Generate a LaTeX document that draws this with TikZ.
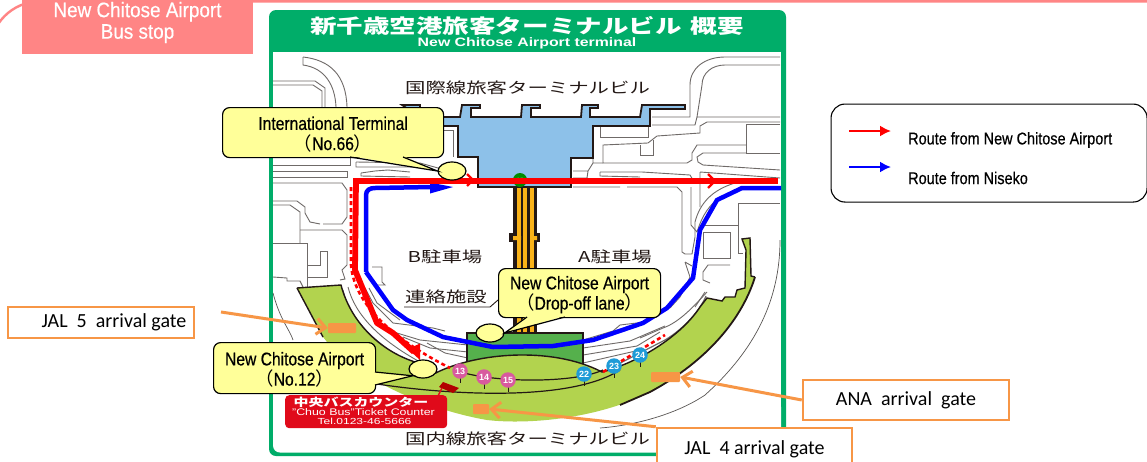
\documentclass[tikz,border=0pt]{standalone}
\usepackage{fontspec}
\setmainfont{Liberation Sans}
\newfontfamily\jp{Noto Sans CJK JP}
\newfontfamily\jpw[FakeStretch=1.36]{Noto Sans CJK JP}
\newfontfamily\lat[FakeStretch=0.85,FakeBold=0.5]{Liberation Sans}
\newfontfamily\latb[FakeStretch=0.9,FakeBold=0.4]{Liberation Sans}
\newfontfamily\carl{Carlito}
\newcommand{\lpar}{{\jp （}}
\newcommand{\rpar}{{\jp ）}}
\newcommand{\topfix}{\rule{0pt}{16.5pt}}
\usetikzlibrary{arrows.meta,shapes.geometric}
\definecolor{fgreen}{HTML}{00AD69}
\definecolor{pinkc}{HTML}{FF8585}
\definecolor{lgreen}{HTML}{B2D34E}
\definecolor{bgreen}{HTML}{55B04C}
\definecolor{tblue}{HTML}{8DC1E9}
\definecolor{yel}{HTML}{FFFF99}
\definecolor{orng}{HTML}{F79646}
\definecolor{bridge}{HTML}{F9B218}
\definecolor{cred}{HTML}{E00A1A}
\definecolor{inkc}{HTML}{231815}
\definecolor{roadc}{HTML}{6F6A68}
\definecolor{gpink}{HTML}{D85A9E}
\definecolor{gblue}{HTML}{1F9BD7}
\tikzset{
 road/.style={draw=roadc,line width=0.9pt},
 thinarc/.style={draw=roadc!80!black,line width=0.7pt},
 rred/.style={draw=red,line width=5.8pt,line join=round},
 rblue/.style={draw=blue,line width=4.5pt,line join=round},
 dashr/.style={draw=red,line width=2.6pt,dash pattern=on 4pt off 3pt},
 callout/.style={draw=black,fill=yel,line width=1.2pt,rounded corners=7pt,inner sep=0pt,align=center,font=\lat\fontsize{18.4}{20.2}\selectfont},
 stopoval/.style={draw=black,fill=yel,line width=1.2pt,ellipse,minimum width=28pt,minimum height=18pt,inner sep=0pt},
 jplabel/.style={font=\jpw\fontsize{15}{17}\selectfont,text=inkc,inner sep=0pt},
 infobox/.style={draw=orng,fill=white,line width=2.5pt,inner sep=0pt,font=\carl\fontsize{20}{22}\selectfont},
 gatemark/.style={fill=orng,rounded corners=1pt,inner sep=0pt},
 gateline/.style={draw=orng,line width=3pt,-{Straight Barb[length=9pt,width=16pt,line width=3pt]}},
 gatepink/.style={circle,fill=gpink,minimum size=15.5pt,inner sep=0pt,text=white,font=\bfseries\fontsize{9}{9}\selectfont},
 gateblue/.style={circle,fill=gblue,minimum size=15.5pt,inner sep=0pt,text=white,font=\bfseries\fontsize{9}{9}\selectfont},
 legendtext/.style={anchor=west,inner sep=0pt,font=\lat\fontsize{17}{19}\selectfont},
}
\begin{document}
\begin{tikzpicture}[x=1pt,y=-1pt]
\clip (0,0) rectangle (1147,461);
\fill[white] (0,0) rectangle (1147,461);
% outer pink frame
\draw[pinkc,line width=2.4pt,rounded corners=50pt] (-10,462) -- (-10,1.4) -- (1300,1.4) -- (1300,500);
\node[fill=pinkc,minimum width=231pt,minimum height=54pt,inner sep=0pt,anchor=north west] (busstop) at (22,0) {};
\node[text=white,align=center,inner sep=0pt,font=\latb\fontsize{21}{21.5}\selectfont] (busstoptext) at (137.5,22.5) {New Chitose Airport\\Bus stop};
% green frame
\fill[fgreen,rounded corners=7pt] (269,10) rectangle (786,456);
\fill[white] (273,52) rectangle (781,440);
\fill[white,rounded corners=7pt] (273,400) rectangle (781,452.5);
\node[text=white,font=\jpw\bfseries\fontsize{19.5}{22}\selectfont,inner sep=0pt] (title) at (527,25.5) {新千歳空港旅客ターミナルビル\hspace{9pt}概要};
\node[text=white,font=\bfseries\fontsize{12.2}{13}\selectfont,inner sep=0pt] (subtitle) at (527,43) {\addfontfeature{FakeStretch=1.3}New Chitose Airport terminal};
% road lines, upper left
\draw[road] (303,57) .. controls (330,60) and (346,75) .. (347,107);
\draw[road] (303,57) -- (303,65) .. controls (325,68) and (335,85) .. (336,107);
\draw[road] (273,81) -- (315,81) -- (325,88) -- (325,107);
\draw[road] (273,85) -- (313,85) -- (322,91) -- (322,107);
\draw[road] (273,157) -- (350,157) -- (350,165) -- (273,165);
\draw[road] (273,171) -- (347,171) -- (347,177) -- (273,177);
\draw[road] (356,162) -- (420,163) -- (438,168) (356,162) -- (356,167) -- (420,167);
\draw[road] (361,173) -- (361,176) -- (410,177) (361,173) -- (375,171) -- (388,170) -- (410,172);
\draw[road] (273,183) -- (342,183) -- (347,190) -- (347,217) -- (342,224) -- (323,224) (320,224) -- (310,222) -- (305,213) -- (305,207) -- (297,201) -- (273,201);
\draw[road] (273,205) -- (290,205) -- (300,212) -- (300,243);
\draw[road] (300,230) -- (342,230) -- (347,235) -- (347,265) -- (342,270) -- (345,279) -- (340,280);
\draw[road] (273,243) -- (307,243) -- (307,287);
\draw[road] (307,265) -- (320,265) -- (320,251) -- (327,251) -- (327,277) -- (307,277);
\draw[road] (273,277) -- (287,278) -- (287,281) -- (300,281) -- (303,287);
\draw[road] (372,267) -- (382,267) -- (382,282) -- (385,285) -- (375,285);
\draw[road] (443,130) -- (453,130) -- (453,157);
% road lines, upper right
\draw[road] (652,117) -- (690,117) -- (690,85) .. controls (690,68) and (705,57) .. (725,57) -- (780,57);
\draw[road] (697,117) -- (702,85) .. controls (702,73) and (712,65) .. (725,65) -- (780,65);
\draw[road] (652,125) -- (695,125) -- (697,117) -- (780,117);
\draw[road] (780,122) -- (707,122) -- (700,126) -- (700,133) -- (657,136) -- (648,143) -- (603,145) -- (603,163) -- (687,163) -- (692,160) -- (692,153) -- (697,145) -- (746,145);
\draw[road] (600,127) -- (600,137) -- (648,137) -- (648,127);
\draw[road] (640,145) -- (640,155) -- (653,155) -- (653,140);
\draw[road] (746,124) -- (746,153) -- (780,153) (746,124) -- (780,124);
\draw[road] (746,153) -- (703,153) -- (697,157) -- (698,162) -- (703,165) -- (780,170);
\draw[road] (573,171) -- (588,171) -- (593,163) (593,158) -- (593,163) -- (603,163) (588,171) -- (587,178) -- (573,178);
\draw[road] (600,172) -- (642,172) -- (690,175) -- (693,180) (600,172) -- (600,176) -- (640,177);
\draw[road] (573,187) -- (620,187) (627,187) -- (677,187) -- (682,192) -- (682,252) -- (685,254) -- (692,254) -- (695,237) -- (695,222) .. controls (700,203) and (712,190) .. (735,183);
\draw[road] (691,187) -- (691,225) -- (697,232) .. controls (703,213) and (710,205) .. (720,197);
\draw[road] (700,172) -- (700,207) (700,172) -- (780,178);
\draw[road] (738,203) -- (780,203) (738,203) -- (738,253) -- (743,253);
\draw[road] (703,225) -- (738,225) (703,232) -- (730,232) -- (730,258) -- (703,258) -- (703,232);
\draw[road] (703,272) -- (708,265) -- (730,265) (703,272) -- (703,280) -- (710,283);
\draw[road] (685,262) -- (690,277) -- (680,297) -- (670,308) (685,262) -- (692,266);
\draw[road] (705,292) -- (695,307);
\draw[road] (707,292) .. controls (695,305) and (680,322) .. (663,328) -- (640,338);
\draw[road] (583,340) -- (613,331) -- (620,325) -- (645,322);
\draw[road] (583,348) -- (630,341) -- (665,326);
\draw[road] (583,355) -- (637,346) -- (660,332);
\draw[road] (583,363) -- (640,350);
\draw[road,line width=1.2pt] (603,372) -- (665,340) .. controls (685,328) and (700,310) .. (706,296);
% road lines, left channel
\draw[road] (343,290) .. controls (349,318) and (375,345) .. (417,367);
\draw[road] (348,287) .. controls (355,315) and (380,340) .. (420,362);
\draw[road] (365,288) -- (373,303) -- (393,323) -- (433,328) -- (445,331);
\draw[road] (369,288) -- (377,303) -- (400,320);
\draw[road] (387,330) -- (420,340) -- (468,345);
\draw[road] (403,337) -- (430,348) -- (468,352);
\draw[road] (427,343) -- (445,353) -- (468,358);
% outer thin arc
\draw[thinarc] (273,293) .. controls (280,320) and (290,330) .. (293,340);
\draw[thinarc] (780,240) .. controls (780,300) and (755,350) .. (705,395) .. controls (680,412) and (640,425) .. (600,428);
% bridge
\fill[inkc] (513,187) rectangle (537,334);
\fill[inkc] (509,233) rectangle (540,242);
\foreach \a/\b in {517/521,523/527,530/534}{\fill[bridge] (\a,187) rectangle (\b,333);}
\fill[bridge] (513,236) rectangle (521,240) (530,236) rectangle (537,240);
% terminal
\draw[fill=tblue,draw=inkc,line width=1.8pt,line join=miter] (402,105) -- (420,105) -- (420,117) -- (460,117) -- (462,105) -- (480,105) -- (480,108) -- (471,108) -- (471,117) -- (521,117) -- (522,105) -- (540,105) -- (540,108) -- (531,108) -- (531,117) -- (581,117) -- (582,105) -- (598,105) -- (598,108) -- (590,108) -- (590,117) -- (640,117) -- (642,105) -- (685,105) -- (685,109) -- (650,109) -- (650,126) -- (593,126) -- (593,158) -- (571,158) -- (571,187) -- (478,187) -- (478,157) -- (458,157) -- (458,126) -- (442,126) -- (442,117) -- (420,117) -- cycle;
\node[circle,fill=green!55!black,minimum size=14pt,inner sep=0pt,text=white,font=\bfseries\fontsize{6}{7}\selectfont] (gate25) at (520,180) {25};
% apron and buildings
\draw[draw=inkc,fill=bgreen,line width=1.5pt] (467,375) -- (467,333) -- (583,333) -- (583,375);
\fill[lgreen] (297,288) -- (341,285) .. controls (350,320) and (378,350) .. (415,362) -- (430,376) .. controls (470,353) and (550,345) .. (602,372) .. controls (640,362) and (682,335) .. (700,307) -- (707,298) -- (722,301) -- (725,297) -- (735,297) -- (737,290) -- (745,288) -- (746,250) -- (742,239) -- (750,238) -- (751,276) -- (755,277) .. controls (740,325) and (700,365) .. (650,392) .. controls (600,418) and (530,425) .. (487,420) .. controls (440,412) and (360,385) .. (323,337) -- cycle;
\draw[inkc,line width=1.4pt] (297,288) -- (341,285) .. controls (350,320) and (378,350) .. (415,362);
\draw[inkc,line width=1.4pt] (297,288) -- (323,337);
\draw[inkc,line width=1.4pt] (430,376) .. controls (470,353) and (550,345) .. (602,372);
\draw[inkc,line width=1.4pt] (602,372) .. controls (640,362) and (682,335) .. (700,307) -- (707,298) -- (722,301) -- (725,297) -- (735,297) -- (737,290) -- (745,288) -- (746,250) -- (742,239) -- (750,238) -- (751,276) -- (755,277);
\draw[inkc,line width=1.8pt] (755,277) .. controls (740,325) and (700,365) .. (650,392) -- (620,405);
\draw[inkc,line width=1.2pt] (453,369) .. controls (480,382) and (570,385) .. (603,370);
\draw[inkc,line width=1.2pt] (377,384) .. controls (450,395) and (570,402) .. (620,370);
% dashes and routes
\draw[dashr] (351,187) -- (351,265) .. controls (354,300) and (385,335) .. (450,368);
\draw[dashr] (603,372) -- (665,335);
\draw[rblue] (366,272) -- (366,195) .. controls (366,190) and (370,188) .. (375,188) -- (432,187);
\fill[blue] (430,182.5) -- (453,187) -- (430,193.5) -- cycle;
\draw[rblue] (366,272) -- (393,310) -- (407,320) -- (443,337) -- (493,347) -- (553,346) -- (593,340) -- (643,323) -- (667,308) -- (693,278) -- (700,230) -- (717,200) -- (742,188) -- (781,188);
\draw[rred] (356,181) -- (778,181);
\draw[rred] (356,178.1) -- (355,270) -- (377,323) -- (393,333) -- (414,352);
\fill[red] (408,349) -- (420,343.5) -- (420,360) -- cycle;
\draw[red,line width=2.4pt] (467,174) -- (473,180) -- (467,186);
\draw[red,line width=2.4pt] (708,174) -- (715,181) -- (708,188);
% map labels
\node[jplabel] (intl) at (527.5,87.5) {国際線旅客ターミナルビル};
\node[jplabel] (bpark) at (445,257) {B駐車場};
\node[jplabel] (apark) at (615,257) {A駐車場};
\node[jplabel] (renraku) at (446,297) {連絡施設};
\draw[inkc,line width=.9pt] (404,307) -- (490,307) -- (498,300);
\node[jplabel] (dom) at (527.5,439) {国内線旅客ターミナルビル};
% ticket counter
\fill[fill=red!70!black] (443,382) -- (459,388) -- (453,393) -- (439,387) -- cycle;
\node[fill=cred,rounded corners=4pt,minimum width=162pt,minimum height=33pt,inner sep=0pt,anchor=north west] (counter) at (285,395) {};
\node[text=white,inner sep=0pt,font=\jpw\bfseries\fontsize{11}{11}\selectfont] (ct1) at (361,402.5) {中央バスカウンター};
\node[text=white,inner sep=0pt,font=\fontsize{9.6}{10}\selectfont] (ct2) at (363.5,412.5) {\addfontfeature{FakeStretch=1.29}"Chuo Bus"Ticket Counter};
\node[text=white,inner sep=0pt,font=\fontsize{8.8}{9}\selectfont] (ct3) at (364.5,421.5) {\addfontfeature{FakeStretch=1.37}Tel.0123-46-5666};
\draw[cred,line width=1.5pt] (442,388) -- (438,396);
% gates
\foreach \n/\x/\y in {13/460/371,14/484/377,15/508/380}{
 \draw[inkc,line width=.6pt] (\x,\y) -- (\x,\y+12);
 \node[gatepink] (g\n) at (\x,\y) {\n};}
\foreach \n/\x/\y in {22/584/374,23/614/366,24/640/355}{
 \draw[inkc,line width=.6pt] (\x,\y) -- (\x,\y+12);
 \node[gateblue] (g\n) at (\x,\y) {\n};}
% stops
\node[stopoval] (eintl) at (452,171) {};
\node[stopoval] (edrop) at (490,333) {};
\node[stopoval] (eno) at (423,369) {};
% callouts
\node[callout,minimum width=221pt,minimum height=50pt,anchor=north west] (cintl) at (222,107) {\topfix International Terminal\\\lpar No.66\rpar};
\fill[yel] (350,156) -- (eintl.west) -- (403,156) -- cycle;
\draw[black,line width=1.2pt] (350,157) -- (eintl.west) -- (403,157);
\node[callout,minimum width=162pt,minimum height=49pt,anchor=north west] (cdrop) at (498,268) {\topfix New Chitose Airport\\\lpar Drop-off lane\rpar};
\fill[yel] (527,316) -- (edrop.east) -- (565,316) -- cycle;
\draw[black,line width=1.2pt] (527,317) -- (edrop.east) -- (565,317);
\node[callout,minimum width=162pt,minimum height=51pt,anchor=north west] (cno) at (213,342) {\topfix New Chitose Airport\\\lpar No.12\rpar};
\fill[yel] (374,372) -- (eno.south west) -- (374,385) -- cycle;
\draw[black,line width=1.2pt] (375,372) -- (eno.south west) -- (375,385);
% gate info
\node[gatemark,minimum width=28pt,minimum height=10pt] (mj5) at (342,328) {};
\node[gatemark,minimum width=29pt,minimum height=10pt] (mana) at (665.5,377) {};
\node[gatemark,minimum width=16pt,minimum height=10pt] (mj4) at (481,409) {};
\node[infobox,minimum width=186pt,minimum height=31pt] (bj5) at (101,322.5) {\hspace*{26pt}JAL\ \ 5\ \ arrival gate};
\node[infobox,minimum width=206pt,minimum height=40pt] (bana) at (906,400) {ANA\ \ arrival\ \ gate};
\node[infobox,minimum width=195pt,minimum height=42pt] (bj4) at (754.5,449) {JAL\ \ 4 arrival gate};
\coordinate (j5start) at (221,312);
\draw[gateline] (j5start) -- (mj5.west);
\draw[gateline] (bana.west) -- (mana.east);
\draw[gateline] (bj4.north west) -- (mj4.east);
% legend
\node[draw=black,fill=white,line width=1.1pt,rounded corners=14pt,minimum width=316pt,minimum height=98pt,anchor=north west] (legend) at (830.5,103.5) {};
\coordinate (ra) at (849,131); \coordinate (rb) at (891,131);
\coordinate (ba) at (849,167); \coordinate (bb) at (891,167);
\draw[red,line width=2pt,-{Latex[length=11pt,width=11pt]}] (ra) -- (rb);
\draw[blue,line width=2pt,-{Latex[length=11pt,width=11pt]}] (ba) -- (bb);
\node[legendtext] (lr) at (908,140) {Route from New Chitose Airport};
\node[legendtext] (lb) at (908,178) {Route from Niseko};
\end{tikzpicture}
\end{document}
